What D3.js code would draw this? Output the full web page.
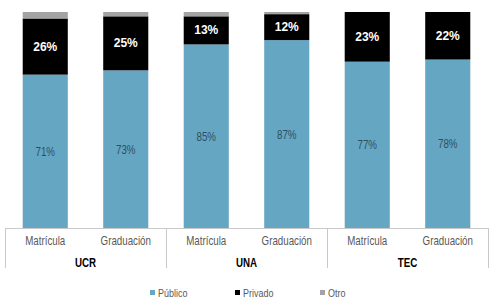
<!DOCTYPE html>
<html>
<head>
<meta charset="utf-8">
<script src="https://cdn.jsdelivr.net/npm/d3@7"></script>
<style>
  body { margin: 0; background: #fff; }
  svg text { font-family: "Liberation Sans", Arial, sans-serif; }
</style>
</head>
<body>
<div id="chart"></div>
<script>
// data
var groups = ["UCR", "UNA", "TEC"];
var stages = ["Matrícula", "Graduación"];
var publico = [71, 73, 85, 87, 77, 78];
var privado = [26, 25, 13, 12, 23, 22];
var otro = [3, 2, 2, 1, 0, 0];
var seriesNames = ["Público", "Privado", "Otro"];
var colors = ["#65a6c2", "#000000", "#a3a3a3"];

var width = 496, height = 301;
// no narrow font installed, so squeeze the regular one
var squeeze = 0.78;

var svg = d3.select("#chart").append("svg")
    .attr("width", width)
    .attr("height", height);

// one row per bar
var rows = [];
groups.forEach(function(g, gi) {
    stages.forEach(function(s, si) {
        var i = gi * stages.length + si;
        rows.push({ key: g + "|" + s, group: g, stage: s, "Público": publico[i], "Privado": privado[i], "Otro": otro[i] });
    });
});

var x = d3.scaleBand()
    .domain(rows.map(function(d) { return d.key; }))
    .range([5, 488])
    .paddingInner(0.44)
    .paddingOuter(0.22);

var y = d3.scaleLinear()
    .domain([0, 100])
    .range([228, 12]);

var stack = d3.stack().keys(seriesNames);
var layers = stack(rows);

svg.selectAll("g.layer")
    .data(layers)
    .enter().append("g")
    .attr("class", "layer")
    .attr("fill", function(d, i) { return colors[i]; })
    .selectAll("rect")
    .data(function(d) { return d; })
    .enter().append("rect")
    .attr("x", function(d) { return x(d.data.key); })
    .attr("y", function(d) { return y(d[1]); })
    .attr("width", x.bandwidth())
    .attr("height", function(d) { return y(d[0]) - y(d[1]); });

function cx(d) { return x(d.data.key) + x.bandwidth() / 2; }
function midY(d) { return (y(d[0]) + y(d[1])) / 2; }

// value labels
var pubLayer = layers[0], privLayer = layers[1];
svg.selectAll("text.pub")
    .data(pubLayer)
    .enter().append("text")
    .attr("class", "pub")
    .attr("transform", function(d) { return "translate(" + cx(d) + "," + (midY(d) + 4.5) + ") scale(" + squeeze + ",1)"; })
    .attr("text-anchor", "middle")
    .attr("font-size", 12.5)
    .attr("fill", "#2e4f63")
    .text(function(d) { return d.data["Público"] + "%"; });

svg.selectAll("text.priv")
    .data(privLayer)
    .enter().append("text")
    .attr("class", "priv")
    .attr("x", cx)
    .attr("y", function(d) { return midY(d) + 4; })
    .attr("text-anchor", "middle")
    .attr("font-size", 12)
    .attr("font-weight", "bold")
    .attr("fill", "#fff")
    .text(function(d) { return d.data["Privado"] + "%"; });

// axis line and group separators
var axisColor = "#c9c9c9";
svg.append("line")
    .attr("x1", 5).attr("x2", 488)
    .attr("y1", 228.5).attr("y2", 228.5)
    .attr("stroke", axisColor);

var step = x.step();
var groupEdges = d3.range(groups.length + 1).map(function(i) {
    return x(rows[0].key) - x.paddingOuter() * step + i * stages.length * step;
});
svg.selectAll("line.sep")
    .data(groupEdges)
    .enter().append("line")
    .attr("class", "sep")
    .attr("x1", function(d) { return Math.round(d) + 0.5; })
    .attr("x2", function(d) { return Math.round(d) + 0.5; })
    .attr("y1", 228).attr("y2", 268)
    .attr("stroke", axisColor);

// stage labels
svg.selectAll("text.stage")
    .data(rows)
    .enter().append("text")
    .attr("class", "stage")
    .attr("transform", function(d) { return "translate(" + (x(d.key) + x.bandwidth() / 2) + ",245) scale(" + squeeze + ",1)"; })
    .attr("text-anchor", "middle")
    .attr("font-size", 12.5)
    .attr("fill", "#595959")
    .text(function(d) { return d.stage; });

// group labels
svg.selectAll("text.group")
    .data(groups)
    .enter().append("text")
    .attr("class", "group")
    .attr("transform", function(d, i) { return "translate(" + ((groupEdges[i] + groupEdges[i + 1]) / 2) + ",266.5) scale(" + squeeze + ",1)"; })
    .attr("text-anchor", "middle")
    .attr("font-size", 12.5)
    .attr("font-weight", "bold")
    .attr("fill", "#000")
    .text(function(d) { return d; });

// legend
var legendX = [150, 235, 320];
var legend = svg.selectAll("g.legend")
    .data(seriesNames)
    .enter().append("g")
    .attr("class", "legend")
    .attr("transform", function(d, i) { return "translate(" + legendX[i] + ",293)"; });

legend.append("rect")
    .attr("x", 0).attr("y", -3)
    .attr("width", 5).attr("height", 5)
    .attr("fill", function(d, i) { return colors[i]; });

legend.append("text")
    .attr("transform", "translate(8,4) scale(" + squeeze + ",1)")
    .attr("font-size", 11.5)
    .attr("fill", "#595959")
    .text(function(d) { return d; });
</script>
</body>
</html>
